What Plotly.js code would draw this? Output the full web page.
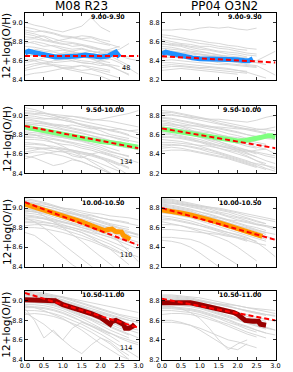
<!DOCTYPE html>
<html><head><meta charset="utf-8">
<script src="https://cdn.plot.ly/plotly-3.0.1.min.js"></script>
<style>html,body{margin:0;padding:0;background:#fff;}#chart{width:293px;height:372px;}</style>
</head><body><div id="chart"></div>
<script>
// Shared radius grid for the grey individual profiles (R/Re)
const GX = [0,0.25,0.5,0.75,1,1.25,1.5,1.75,2,2.25,2.5,2.75,3];

const binLabels = ['9.00-9.50','9.50-10.00','10.00-10.50','10.50-11.00'];
const counts = [48,134,110,114];
const methods = ['M08 R23','PP04 O3N2'];
const yTitle = '12+log(O/H)';
const profileColors = ['#1e90ff','#80ff80','#ff9900','#990000'];

// Grey individual profiles (values on GX)
const grey1 = [
[8.95,8.93,8.90,8.88,8.85,8.84,8.82,8.80,8.78,8.76],
[9.00,8.97,8.95,8.92,8.90,8.93,8.96,9.05,8.95,8.90],
[8.85,8.84,8.86,8.83,8.80,8.79,8.77,8.75,8.72,8.70,8.68],
[8.80,8.78,8.75,8.76,8.74,8.72,8.73,8.70,8.68,8.69,8.66,8.64],
[8.75,8.74,8.72,8.70,8.71,8.69,8.68,8.66,8.65,8.64],
[8.70,8.72,8.70,8.69,8.67,8.68,8.66,8.67,8.70,8.72,8.75],
[8.65,8.66,8.64,8.63,8.62,8.63,8.64,8.62,8.60,8.58],
[8.60,8.62,8.60,8.58,8.59,8.60,8.58,8.57,8.55,8.56,8.54],
[8.55,8.57,8.58,8.56,8.55,8.54,8.55,8.52,8.50,8.48],
[8.50,8.52,8.54,8.55,8.53,8.52,8.50,8.51,8.48,8.45,8.42],
[8.62,8.60,8.57,8.55,8.52,8.50,8.48,8.46,8.44,8.40],
[8.78,8.80,8.78,8.75,8.72,8.70,8.66,8.62,8.58,8.55,8.50,8.45],
[8.68,8.66,8.65,8.66,8.68,8.70,8.72,8.70,8.68,8.66,8.65,8.62,8.60],
[8.45,8.47,8.48,8.50,8.52,8.53,8.55,8.54,8.52,8.50],
[8.90,8.88,8.85,8.80,8.78,8.75,8.76,8.74,8.72,8.70,8.72,8.78],
[8.58,8.60,8.63,8.65,8.64,8.66,8.68,8.70,8.68,8.65,8.60,8.55],
[8.92,8.90,8.91,8.89,8.86,8.85,8.83,8.84,8.80,8.77,8.74],
[8.72,8.70,8.68,8.65,8.63,8.60,8.58,8.57,8.60,8.62,8.58,8.52,8.46],
[8.82,8.83,8.81,8.79,8.77,8.78,8.76,8.73,8.71,8.68,8.64],
[8.52,8.55,8.57,8.60,8.61,8.62,8.60,8.59,8.57,8.54,8.50,8.46],
[8.88,8.86,8.82,8.80,8.82,8.84,8.86,8.85,8.82,8.80]
];
const grey2 = [
[8.72,8.72,8.73,8.72,8.74,8.75,8.74,8.75,8.73,8.72,8.74],
[8.65,8.63,8.62,8.60,8.58,8.57,8.55,8.54,8.52,8.51],
[8.60,8.58,8.57,8.55,8.54,8.52,8.50,8.49,8.48,8.46,8.45],
[8.55,8.54,8.52,8.50,8.49,8.48,8.46,8.45,8.44,8.43],
[8.50,8.50,8.48,8.47,8.46,8.45,8.44,8.43,8.42,8.40,8.38],
[8.45,8.46,8.45,8.44,8.42,8.41,8.40,8.40,8.39,8.38],
[8.40,8.41,8.40,8.39,8.38,8.37,8.36,8.36,8.35,8.34,8.33],
[8.35,8.36,8.35,8.34,8.33,8.33,8.32,8.31,8.30,8.29],
[8.30,8.31,8.32,8.31,8.30,8.29,8.28,8.27,8.26],
[8.58,8.56,8.55,8.52,8.50,8.48,8.46,8.44,8.42,8.40,8.40,8.45,8.50],
[8.48,8.47,8.46,8.45,8.43,8.42,8.41,8.40,8.38,8.36,8.35,8.30,8.25],
[8.62,8.60,8.58,8.57,8.55,8.55,8.53,8.52,8.50,8.48,8.47],
[8.38,8.38,8.37,8.36,8.35,8.34,8.33,8.32,8.30,8.28,8.25,8.22],
[8.53,8.52,8.51,8.49,8.47,8.46,8.45,8.43,8.42,8.41],
[8.67,8.66,8.64,8.62,8.61,8.59,8.58,8.56,8.55,8.53,8.52],
[8.57,8.57,8.56,8.54,8.52,8.51,8.49,8.47,8.46,8.44],
[8.43,8.44,8.43,8.42,8.41,8.40,8.38,8.37,8.36,8.35,8.34],
[8.33,8.34,8.34,8.33,8.32,8.31,8.30,8.29,8.28,8.27],
[8.51,8.50,8.49,8.48,8.47,8.45,8.43,8.42,8.40,8.39,8.38,8.36]
];
const grey3 = [
[9.05,9.04,9.02,9.00,8.98,8.96,8.94,8.92,8.90,8.88,8.86,8.84,8.82],
[9.00,8.99,8.97,8.96,8.95,8.93,8.90,8.88,8.86,8.85,8.83,8.80],
[8.95,8.94,8.92,8.90,8.88,8.86,8.84,8.82,8.80,8.78,8.76,8.74,8.72],
[8.92,8.90,8.89,8.87,8.85,8.83,8.81,8.79,8.77,8.74,8.72],
[8.88,8.87,8.85,8.83,8.81,8.80,8.77,8.75,8.72,8.70,8.68,8.66],
[8.85,8.84,8.82,8.80,8.78,8.76,8.74,8.71,8.69,8.66,8.63],
[8.80,8.80,8.78,8.76,8.74,8.72,8.70,8.68,8.65,8.62,8.60,8.58],
[8.75,8.75,8.74,8.72,8.70,8.69,8.66,8.64,8.61,8.58,8.55],
[8.70,8.70,8.69,8.68,8.66,8.64,8.62,8.60,8.57,8.54,8.50,8.46],
[8.65,8.66,8.65,8.63,8.62,8.60,8.57,8.54,8.50,8.46,8.42],
[8.60,8.62,8.62,8.60,8.58,8.55,8.52,8.48,8.44,8.40,8.36],
[8.98,8.97,8.96,8.97,8.98,8.99,8.97,8.95,8.96,8.98,9.00,9.02,9.05],
[8.90,8.91,8.92,8.90,8.89,8.90,8.88,8.86,8.87,8.85,8.86,8.84,8.85],
[8.55,8.58,8.60,8.62,8.63,8.62,8.60,8.58,8.55,8.52,8.48],
[8.82,8.80,8.76,8.72,8.68,8.63,8.58,8.52,8.46,8.40,8.35],
[8.78,8.79,8.80,8.78,8.77,8.75,8.74,8.73,8.72,8.72,8.73,8.70,8.68],
[9.08,9.06,9.03,9.00,8.97,8.94,8.90,8.87,8.84,8.80,8.78,8.76],
[8.72,8.71,8.70,8.66,8.63,8.58,8.56,8.60,8.62,8.59,8.55,8.50],
[8.86,8.86,8.84,8.82,8.80,8.79,8.78,8.76,8.75,8.72,8.70,8.69,8.68],
[8.68,8.67,8.66,8.66,8.65,8.64,8.62,8.60,8.56,8.50,8.44,8.38],
[9.02,9.01,9.00,8.98,8.95,8.93,8.91,8.89,8.87,8.84,8.82,8.79,8.76],
[8.97,8.95,8.93,8.91,8.90,8.87,8.85,8.83,8.80,8.78,8.75,8.73],
[8.93,8.92,8.91,8.89,8.86,8.84,8.82,8.79,8.76,8.73,8.70,8.67,8.64],
[8.83,8.82,8.81,8.79,8.77,8.75,8.73,8.70,8.67,8.63,8.60,8.57],
[8.77,8.77,8.76,8.75,8.73,8.71,8.68,8.66,8.63,8.60,8.57,8.54,8.51],
[8.62,8.64,8.66,8.66,8.65,8.63,8.61,8.59,8.56,8.53,8.49,8.45],
[8.58,8.56,8.52,8.48,8.50,8.54,8.52,8.48,8.44,8.40],
[9.03,9.02,9.02,9.01,9.00,8.99,8.98,8.96,8.95,8.94,8.92,8.90,8.88]
];
const grey4 = [
[8.85,8.84,8.82,8.80,8.78,8.76,8.74,8.72,8.70,8.68,8.66,8.65,8.64],
[8.82,8.81,8.79,8.77,8.75,8.73,8.71,8.69,8.67,8.65,8.63,8.61],
[8.78,8.77,8.75,8.73,8.71,8.69,8.67,8.65,8.63,8.60,8.58,8.56,8.55],
[8.75,8.74,8.72,8.70,8.68,8.66,8.64,8.61,8.59,8.56,8.54],
[8.72,8.71,8.69,8.67,8.65,8.63,8.60,8.58,8.55,8.53,8.50,8.48],
[8.68,8.67,8.65,8.63,8.61,8.59,8.57,8.54,8.51,8.48,8.46],
[8.65,8.64,8.62,8.60,8.58,8.55,8.53,8.50,8.47,8.44,8.41,8.38,8.36],
[8.62,8.61,8.59,8.57,8.55,8.52,8.49,8.46,8.43,8.40,8.37],
[8.58,8.57,8.56,8.54,8.52,8.49,8.46,8.43,8.40,8.37,8.33,8.30],
[8.55,8.54,8.53,8.51,8.48,8.45,8.42,8.39,8.36,8.33,8.29,8.25,8.22],
[8.50,8.50,8.49,8.47,8.45,8.42,8.40,8.37,8.34,8.31,8.28],
[8.46,8.47,8.46,8.44,8.42,8.40,8.38,8.36,8.33,8.30,8.27,8.24],
[8.80,8.80,8.79,8.78,8.77,8.76,8.76,8.75,8.74,8.73,8.75,8.78,8.80],
[8.70,8.70,8.70,8.69,8.69,8.68,8.68,8.67,8.66,8.66,8.65,8.66,8.68],
[8.60,8.60,8.58,8.56,8.53,8.50,8.48,8.46,8.44,8.42,8.44,8.45,8.40],
[8.74,8.72,8.69,8.65,8.61,8.57,8.53,8.49,8.45,8.41,8.37,8.33,8.30],
[8.66,8.66,8.65,8.64,8.63,8.62,8.60,8.58,8.57,8.55,8.52,8.50],
[8.52,8.52,8.51,8.50,8.49,8.48,8.46,8.44,8.42,8.38,8.33,8.28,8.24],
[8.83,8.83,8.81,8.79,8.77,8.75,8.72,8.70,8.68,8.66,8.64,8.62],
[8.77,8.76,8.74,8.72,8.70,8.68,8.66,8.64,8.62,8.60,8.58,8.57,8.56],
[8.70,8.69,8.67,8.64,8.62,8.60,8.57,8.55,8.52,8.50,8.47,8.45],
[8.63,8.63,8.62,8.60,8.57,8.54,8.51,8.48,8.46,8.44,8.42,8.40,8.38],
[8.57,8.58,8.57,8.55,8.53,8.51,8.49,8.47,8.45,8.43,8.40],
[8.48,8.49,8.49,8.48,8.46,8.44,8.41,8.38,8.35,8.32,8.30,8.28,8.26],
[8.43,8.44,8.44,8.43,8.41,8.39,8.37,8.35,8.32,8.29,8.26]
];
const grey5 = [
[9.10,9.08,9.06,9.03,9.00,8.98,8.95,8.93,8.90,8.88,8.86,8.84,8.82],
[9.07,9.05,9.02,9.00,8.97,8.94,8.91,8.88,8.86,8.83,8.80,8.78],
[9.04,9.03,9.00,8.98,8.95,8.92,8.89,8.86,8.83,8.80,8.77,8.75,8.72],
[9.02,9.00,8.98,8.95,8.92,8.89,8.86,8.83,8.80,8.77,8.74,8.71],
[9.00,8.98,8.96,8.93,8.90,8.87,8.84,8.81,8.78,8.75,8.72,8.68,8.65],
[8.98,8.96,8.94,8.91,8.88,8.85,8.82,8.79,8.76,8.72,8.69,8.65],
[8.95,8.94,8.92,8.89,8.86,8.83,8.80,8.77,8.73,8.70,8.66,8.62,8.58],
[8.92,8.91,8.89,8.86,8.83,8.80,8.77,8.74,8.70,8.66,8.62,8.58],
[8.88,8.88,8.86,8.84,8.81,8.78,8.75,8.71,8.67,8.63,8.58,8.53,8.50],
[8.85,8.85,8.83,8.81,8.78,8.75,8.72,8.68,8.64,8.60,8.55],
[8.80,8.80,8.79,8.77,8.75,8.72,8.69,8.66,8.62,8.58,8.54,8.50],
[9.06,9.05,9.04,9.02,9.00,8.99,8.97,8.95,8.94,8.92,8.91,8.90,8.88],
[8.96,8.97,8.97,8.96,8.95,8.94,8.93,8.92,8.90,8.88,8.87,8.85],
[9.00,8.97,8.92,8.86,8.80,8.73,8.66,8.58,8.50,8.42,8.35],
[8.90,8.86,8.80,8.72,8.63,8.55,8.47,8.40,8.33],
[8.75,8.72,8.65,8.58,8.50,8.42,8.36],
[8.93,8.92,8.90,8.88,8.86,8.84,8.82,8.80,8.79,8.78,8.76,8.75,8.73],
[9.02,9.01,8.99,8.97,8.94,8.91,8.88,8.84,8.80,8.75,8.65,8.55,8.45],
[9.08,9.07,9.05,9.02,8.99,8.96,8.93,8.90,8.87,8.84,8.82,8.80],
[9.05,9.04,9.02,9.00,8.97,8.95,8.92,8.89,8.85,8.82,8.79,8.76,8.73],
[8.99,8.99,8.97,8.95,8.93,8.90,8.87,8.85,8.82,8.79,8.76,8.73],
[8.97,8.96,8.95,8.93,8.90,8.88,8.86,8.83,8.81,8.78,8.75,8.72,8.70],
[8.90,8.90,8.89,8.87,8.85,8.83,8.80,8.78,8.75,8.72,8.69,8.66],
[8.86,8.86,8.85,8.84,8.82,8.80,8.78,8.75,8.73,8.70,8.68,8.65,8.62],
[8.82,8.83,8.83,8.82,8.80,8.78,8.75,8.70,8.64,8.58,8.50,8.42]
];
const grey6 = [
[8.90,8.89,8.87,8.85,8.83,8.81,8.79,8.77,8.75,8.72,8.70,8.68,8.66],
[8.88,8.87,8.85,8.83,8.81,8.79,8.76,8.74,8.71,8.69,8.66,8.64],
[8.86,8.85,8.83,8.81,8.79,8.76,8.74,8.71,8.68,8.66,8.63,8.61,8.58],
[8.84,8.83,8.81,8.79,8.76,8.74,8.71,8.68,8.65,8.62,8.60,8.57],
[8.82,8.81,8.79,8.77,8.74,8.71,8.68,8.65,8.62,8.59,8.56,8.53],
[8.80,8.79,8.77,8.75,8.72,8.69,8.66,8.63,8.60,8.57,8.54,8.51,8.48],
[8.78,8.77,8.75,8.72,8.70,8.67,8.64,8.61,8.58,8.55,8.52],
[8.75,8.74,8.72,8.70,8.67,8.64,8.61,8.58,8.55,8.52,8.49,8.46],
[8.72,8.71,8.69,8.67,8.64,8.61,8.58,8.55,8.52,8.49,8.46],
[8.68,8.68,8.66,8.64,8.62,8.59,8.56,8.53,8.50,8.47,8.44,8.42],
[8.63,8.63,8.62,8.60,8.58,8.56,8.54,8.52,8.49,8.46],
[8.58,8.58,8.57,8.56,8.55,8.54,8.53,8.51,8.50,8.48],
[8.50,8.50,8.49,8.48,8.45,8.40,8.34,8.28,8.22],
[8.47,8.46,8.44,8.40,8.34,8.27,8.20],
[8.85,8.85,8.84,8.83,8.82,8.81,8.80,8.78,8.76,8.74,8.72,8.70,8.68],
[8.76,8.76,8.75,8.74,8.73,8.71,8.70,8.68,8.67,8.65,8.63,8.62,8.60],
[8.70,8.69,8.67,8.65,8.62,8.60,8.57,8.55,8.53,8.50,8.45,8.38,8.30],
[8.66,8.64,8.62,8.59,8.56,8.53,8.50,8.46,8.40,8.33,8.26],
[8.89,8.88,8.86,8.84,8.82,8.80,8.78,8.76,8.73,8.70,8.67,8.64],
[8.87,8.86,8.84,8.82,8.80,8.77,8.75,8.72,8.70,8.67,8.64,8.62,8.60],
[8.83,8.82,8.80,8.78,8.76,8.73,8.70,8.67,8.64,8.61,8.58,8.55],
[8.81,8.80,8.78,8.76,8.73,8.71,8.68,8.65,8.62,8.60,8.57,8.55,8.53],
[8.77,8.76,8.74,8.72,8.69,8.66,8.63,8.60,8.57,8.54,8.51,8.48]
];
const grey7 = [
[9.10,9.09,9.08,9.06,9.04,9.01,8.98,8.95,8.92,8.89,8.86,8.84,8.82],
[9.08,9.07,9.06,9.04,9.01,8.98,8.95,8.92,8.89,8.86,8.83,8.80,8.78],
[9.06,9.05,9.04,9.02,8.99,8.96,8.93,8.89,8.86,8.82,8.79,8.76],
[9.04,9.04,9.03,9.01,8.98,8.95,8.91,8.87,8.83,8.79,8.75,8.72,8.70],
[9.02,9.02,9.01,8.99,8.96,8.92,8.88,8.84,8.80,8.76,8.72,8.69],
[9.00,9.00,8.99,8.97,8.94,8.90,8.86,8.82,8.78,8.74,8.70,8.66,8.62],
[8.98,8.98,8.97,8.95,8.92,8.88,8.84,8.80,8.75,8.70,8.66,8.62],
[8.96,8.96,8.95,8.93,8.90,8.86,8.82,8.77,8.72,8.67,8.62,8.58,8.55],
[8.94,8.94,8.93,8.91,8.88,8.84,8.79,8.74,8.69,8.64,8.58],
[8.90,8.90,8.89,8.87,8.84,8.80,8.76,8.71,8.66,8.60,8.54,8.48,8.42],
[8.86,8.87,8.86,8.84,8.81,8.77,8.73,8.68,8.62,8.56,8.48,8.40],
[9.05,9.06,9.06,9.05,9.04,9.02,9.00,8.98,8.96,8.94,8.92,8.90,8.88],
[8.92,8.80,8.62,8.70,8.60,8.72,8.78,8.74,8.70,8.66],
[8.88,8.82,8.76,8.68,8.60,8.52,8.46,8.55,8.62,8.58,8.50,8.44],
[9.00,8.99,8.98,8.97,8.96,8.95,8.93,8.90,8.88,8.85,8.82,8.80,8.78],
[8.95,8.93,8.90,8.86,8.82,8.76,8.70,8.63,8.56,8.50,8.44,8.40],
[9.09,9.08,9.07,9.05,9.03,9.00,8.97,8.94,8.91,8.88,8.85,8.82,8.80],
[9.07,9.06,9.05,9.03,9.00,8.97,8.94,8.90,8.87,8.84,8.80,8.77],
[9.03,9.03,9.02,9.00,8.97,8.94,8.90,8.86,8.82,8.78,8.74,8.70,8.67],
[8.99,8.99,8.98,8.96,8.93,8.89,8.85,8.81,8.77,8.73,8.69,8.65],
[8.93,8.93,8.92,8.90,8.87,8.83,8.79,8.75,8.71,8.67,8.63,8.60,8.57]
];
const grey8 = [
[8.86,8.86,8.85,8.84,8.83,8.81,8.79,8.77,8.75,8.73,8.71,8.69,8.67],
[8.84,8.84,8.83,8.82,8.80,8.78,8.76,8.74,8.72,8.69,8.67,8.65],
[8.82,8.82,8.81,8.80,8.78,8.76,8.74,8.71,8.68,8.66,8.63,8.61,8.59],
[8.80,8.80,8.79,8.78,8.76,8.74,8.71,8.68,8.65,8.62,8.60,8.57],
[8.78,8.78,8.77,8.76,8.74,8.71,8.68,8.65,8.62,8.59,8.56,8.53,8.50],
[8.76,8.76,8.75,8.74,8.72,8.69,8.66,8.63,8.60,8.57,8.54,8.51],
[8.74,8.74,8.73,8.72,8.70,8.67,8.64,8.61,8.57,8.54,8.50,8.47,8.45],
[8.72,8.72,8.71,8.70,8.68,8.65,8.62,8.58,8.55,8.51,8.48],
[8.70,8.70,8.69,8.68,8.66,8.63,8.59,8.56,8.52,8.48,8.45,8.42],
[8.66,8.67,8.67,8.66,8.64,8.61,8.58,8.54,8.50,8.46,8.43],
[8.60,8.60,8.58,8.55,8.50,8.44,8.38,8.32,8.30,8.36],
[8.58,8.58,8.57,8.55,8.52,8.48,8.44,8.40,8.38,8.35,8.32],
[8.80,8.81,8.81,8.80,8.79,8.78,8.77,8.76,8.75,8.73,8.72,8.71,8.70],
[8.75,8.74,8.72,8.68,8.62,8.52,8.40,8.30,8.36,8.40],
[8.83,8.83,8.82,8.81,8.80,8.78,8.76,8.74,8.72,8.70,8.68,8.66,8.65],
[8.85,8.85,8.84,8.83,8.81,8.79,8.77,8.75,8.72,8.70,8.68,8.66,8.64],
[8.81,8.81,8.80,8.79,8.77,8.75,8.73,8.70,8.67,8.64,8.61,8.59],
[8.77,8.77,8.76,8.75,8.73,8.70,8.67,8.64,8.61,8.58,8.55,8.52,8.50],
[8.73,8.73,8.72,8.71,8.69,8.66,8.63,8.60,8.56,8.53,8.50,8.47]
];

// Median profiles (radius, 12+log(O/H))
const med1x = [0,0.1,0.2,0.3,0.4,0.5,0.6,0.7,0.8,0.9,1.0,1.2,1.4,1.6,1.8,2.0,2.2,2.3,2.4,2.5];
const med1y = [8.68,8.70,8.69,8.68,8.68,8.67,8.66,8.65,8.64,8.64,8.64,8.65,8.65,8.66,8.65,8.64,8.65,8.67,8.69,8.64];
const med2x = [0,0.1,0.2,0.4,0.6,0.8,1.0,1.2,1.4,1.6,1.8,2.0,2.2,2.3,2.4];
const med2y = [8.47,8.49,8.48,8.46,8.45,8.43,8.42,8.42,8.41,8.41,8.42,8.41,8.40,8.40,8.42];
const med3x = [0,0.25,0.5,0.75,1,1.25,1.5,1.75,2,2.25,2.5,2.75,3];
const med3y = [8.88,8.86,8.84,8.82,8.80,8.78,8.77,8.75,8.73,8.72,8.70,8.69,8.67];
const med4x = [0,0.25,0.5,0.75,1,1.25,1.5,1.75,2,2.2,2.4,2.6,2.8,2.9,3.0];
const med4y = [8.66,8.645,8.63,8.615,8.60,8.585,8.57,8.55,8.535,8.54,8.55,8.57,8.59,8.59,8.57];
const med5x = [0,0.25,0.5,0.75,1,1.25,1.5,1.75,2,2.1,2.2,2.3,2.4,2.5,2.55,2.6,2.7,2.78];
const med5y = [9.04,9.01,8.98,8.96,8.92,8.89,8.86,8.82,8.78,8.77,8.78,8.785,8.76,8.75,8.755,8.72,8.70,8.68];
const med6x = [0,0.25,0.5,0.75,1,1.25,1.5,1.75,2,2.25,2.5,2.65];
const med6y = [8.78,8.77,8.75,8.73,8.71,8.68,8.65,8.62,8.60,8.57,8.54,8.51];
const med7x = [0,0.25,0.5,0.7,0.8,1.0,1.25,1.5,1.6,1.75,2.0,2.2,2.25,2.3,2.4,2.5,2.6,2.65,2.75,2.85,2.9];
const med7y = [9.01,9.01,9.01,9.01,9.00,8.96,8.93,8.90,8.90,8.87,8.83,8.77,8.76,8.79,8.80,8.78,8.76,8.72,8.72,8.74,8.76];
const med8x = [0,0.25,0.5,0.75,1.0,1.25,1.5,1.75,1.9,2.0,2.1,2.2,2.4,2.55,2.6,2.75];
const med8y = [8.78,8.78,8.78,8.78,8.76,8.74,8.72,8.70,8.68,8.66,8.63,8.60,8.59,8.59,8.56,8.55];

// Linear fits (value at R=0 and R=3)
const fitX = [0,3];
const fitStart = [8.65,8.447,8.89,8.665,9.06,8.80,9.08,8.82];
const fitEnd   = [8.65,8.382,8.66,8.46,8.62,8.475,8.725,8.60];

const greys = [grey1,grey2,grey3,grey4,grey5,grey6,grey7,grey8];
const medX = [med1x,med2x,med3x,med4x,med5x,med6x,med7x,med8x];
const medY = [med1y,med2y,med3y,med4y,med5y,med6y,med7y,med8y];

const W=293,H=372;
const colPx = [[25,138.5],[162,275.5]];
const rowPx = [[12.7,80],[105.7,173.3],[198.3,266.7],[291,359.5]];
const yRanges = [[8.4,9.1],[8.2,8.9]];
const yTicks = [[8.4,8.6,8.8,9.0],[8.2,8.4,8.6,8.8]];

const FONT = 'DejaVu Sans, Liberation Sans, sans-serif';
const traces = [];
const layout = {
  width:W, height:H, margin:{l:0,r:0,t:0,b:0},
  paper_bgcolor:'#fff', plot_bgcolor:'#fff', showlegend:false,
  font:{family:FONT, color:'#000', size:6.5},
  annotations:[]
};

for (let i=0;i<8;i++){
  const row=Math.floor(i/2), col=i%2, k=i+1;
  const xs = k>1?'x'+k:'x', ys = k>1?'y'+k:'y';
  greys[i].forEach(g=>{
    traces.push({x:GX.slice(0,g.length), y:g, xaxis:xs, yaxis:ys, mode:'lines',
      line:{color:'#d2d2d2', width:0.9}, hoverinfo:'skip'});
  });
  traces.push({x:medX[i], y:medY[i], xaxis:xs, yaxis:ys, mode:'lines',
    line:{color:profileColors[row], width:5}});
  traces.push({x:fitX, y:[fitStart[i],fitEnd[i]], xaxis:xs, yaxis:ys, mode:'lines',
    line:{color:'#ff0000', width:2, dash:'5px,3px'}});

  const cp = colPx[col], rp = rowPx[row];
  layout['xaxis'+(k>1?k:'')] = {
    domain:[cp[0]/W, cp[1]/W], range:[0,3], anchor:ys,
    tickvals:[0,0.5,1,1.5,2,2.5,3], ticktext:['0.0','0.5','1.0','1.5','2.0','2.5','3.0'],
    showticklabels: row===3, ticks:'inside', ticklen:3, tickcolor:'#000', tickwidth:0.8,
    showline:true, linecolor:'#000', linewidth:1, mirror:'ticks',
    showgrid:false, zeroline:false, tickfont:{size:6.5, family:FONT}
  };
  layout['yaxis'+(k>1?k:'')] = {
    domain:[1-rp[1]/H, 1-rp[0]/H], range:yRanges[col], anchor:xs,
    tickvals:yTicks[col], ticktext:yTicks[col].map(v=>v.toFixed(1)),
    ticks:'inside', ticklen:3, tickcolor:'#000', tickwidth:0.8,
    showline:true, linecolor:'#000', linewidth:1, mirror:'ticks',
    showgrid:false, zeroline:false, tickfont:{size:6.5, family:FONT}
  };
  layout.annotations.push({xref:xs+' domain', yref:ys+' domain', x:0.9, y:0.945,
    xanchor:'right', yanchor:'middle', text:'<b>'+binLabels[row]+'</b>', showarrow:false,
    font:{size:6.3, family:FONT}});
  if (col===0){
    layout.annotations.push({xref:xs, yref:ys, x:2.68, y:8.52, xanchor:'center', yanchor:'middle',
      text:String(counts[row]), showarrow:false, font:{size:6.5, family:FONT}});
    layout.annotations.push({xref:'paper', yref:ys+' domain', x:6.5/W, y:0.5, xanchor:'center', yanchor:'middle',
      textangle:-90, text:yTitle, showarrow:false, font:{size:10.5, family:FONT}});
  }
}
layout.annotations.push({xref:'paper', yref:'paper', x:81.5/W, y:1-6/H, xanchor:'center', yanchor:'middle',
  text:methods[0], showarrow:false, font:{size:12, family:FONT}});
layout.annotations.push({xref:'paper', yref:'paper', x:224/W, y:1-6/H, xanchor:'center', yanchor:'middle',
  text:methods[1], showarrow:false, font:{size:12, family:FONT}});

Plotly.newPlot('chart', traces, layout, {staticPlot:true, displayModeBar:false});
</script>
</body></html>
